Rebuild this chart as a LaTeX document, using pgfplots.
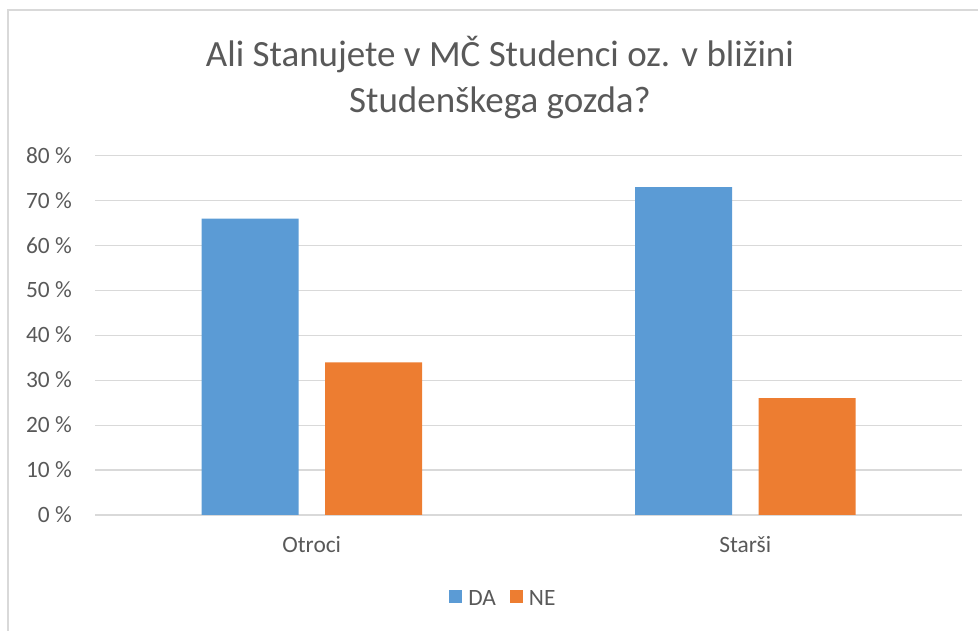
\documentclass[border=0pt]{standalone}
\usepackage{fontspec}
\setmainfont{Carlito}
\usepackage{pgfplots}
\pgfplotsset{compat=1.18}
\definecolor{txtc}{HTML}{595959}
\definecolor{gridc}{HTML}{D9D9D9}
\definecolor{cda}{HTML}{5B9BD5}
\definecolor{cne}{HTML}{ED7D31}
\begin{document}
\begin{tikzpicture}[x=1pt,y=1pt]
\path[use as bounding box] (0,0) rectangle (978,631);
\draw[gridc, line width=1.5pt] (8,-5) -- (8,621) -- (990,621);
\node[anchor=base, inner sep=0pt, text=txtc, font=\fontsize{37}{46}\selectfont] at (500,564.3) {Ali Stanujete v MČ Studenci oz. v bližini};
\node[anchor=base, inner sep=0pt, text=txtc, font=\fontsize{37}{46}\selectfont] at (500,518.3) {Studenškega gozda?};
\begin{axis}[
  at={(95pt,116pt)}, anchor=south west,
  scale only axis, width=867pt, height=359.3pt,
  xmin=-0.5, xmax=1.5, ymin=0, ymax=80,
  enlargelimits=false,
  ybar=26.5pt, bar width=97pt,
  axis line style={draw=none},
  major tick length=0pt,
  tick style={draw=none},
  ymajorgrids, grid style={gridc, line width=1.2pt},
  ytick={0,10,...,80},
  yticklabel={\pgfmathprintnumber[assume math mode=true]{\tick} \%},
  yticklabel style={anchor=base east, inner sep=0pt, xshift=-23pt, yshift=-7.5pt, text=txtc, font=\fontsize{23.4}{28}\selectfont},
  xtick={0,1}, xticklabels={Otroci,Starši},
  xticklabel style={anchor=base, inner sep=0pt, yshift=-38pt, text=txtc, font=\fontsize{23.4}{28}\selectfont},
  legend style={at={(0.471,-0.233)}, anchor=center, draw=none, fill=none,
    legend columns=-1, font=\fontsize{23.4}{28}\selectfont, text=txtc,
    /tikz/every odd column/.append style={column sep=4pt},
    /tikz/every even column/.append style={column sep=12pt}},
  legend image code/.code={\fill[#1] (0pt,-4pt) rectangle (13pt,9pt);},
]
\addplot[fill=cda, draw=none] coordinates {(0,66) (1,73)};
\addplot[fill=cne, draw=none] coordinates {(0,34) (1,26)};
\legend{DA,NE}
\end{axis}
\end{tikzpicture}
\end{document}
